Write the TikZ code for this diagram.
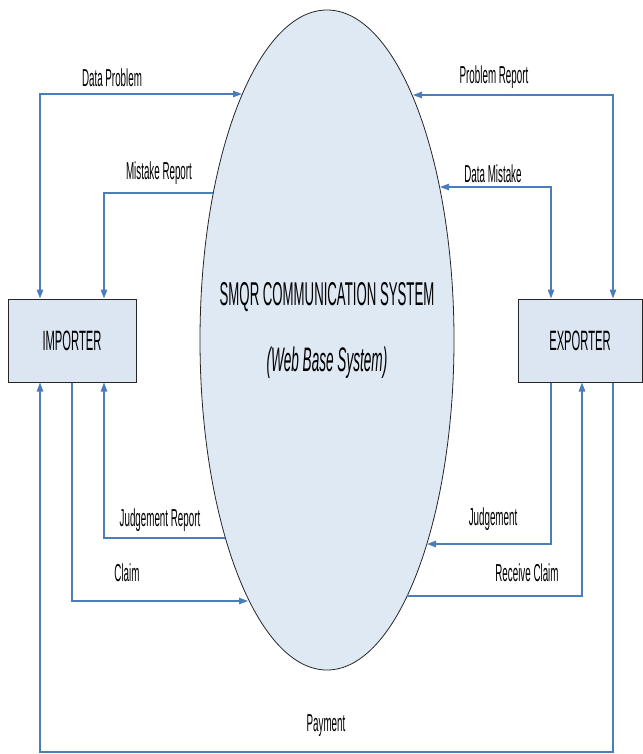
\documentclass[tikz,border=0pt]{standalone}
\usepackage{fontspec}
\usetikzlibrary{shapes.geometric, arrows.meta}
\newfontfamily\narrowfont[FakeStretch=0.4]{Liberation Sans}
\definecolor{flowblue}{HTML}{4A7EBB}
\definecolor{boxfill}{HTML}{DCE6F2}
\definecolor{sysfill}{HTML}{DFE9F4}

\begin{document}
\begin{tikzpicture}[
    x=1pt, y=-1pt,
    entity/.style={rectangle, draw=black!85, line width=1pt, fill=boxfill, minimum width=128pt, minimum height=83pt, font=\narrowfont\fontsize{28}{32}\selectfont},
    system/.style={ellipse, draw=black!85, line width=0.8pt, fill=sysfill, minimum width=254pt, minimum height=660pt, inner sep=0pt},
    lbl/.style={font=\narrowfont\fontsize{24.5}{28}\selectfont, inner sep=0pt},
    flow/.style={draw=flowblue, line width=1.2pt, -{Triangle[length=9pt,width=6.5pt]}},
    twoway/.style={draw=flowblue, line width=1.2pt, {Triangle[length=9pt,width=6.5pt]}-{Triangle[length=9pt,width=6.5pt]}}
]
\useasboundingbox (0,0) rectangle (642,754);

% Central system
\node[system] (sys) at (327,340) {};
\node[font=\narrowfont\fontsize{33}{38}\selectfont] (title) at (327,297) {SMQR COMMUNICATION SYSTEM};
\node[font=\narrowfont\itshape\fontsize{34}{38}\selectfont] (sub) at (327,363) {(Web Base System)};

% Entities
\node[entity] (imp) at (72,340.5) {IMPORTER};
\node[entity, minimum width=124pt] (exp) at (580,340.5) {EXPORTER};

% Points on the system border
\coordinate (dp) at (242,94);
\coordinate (mr) at (213,193);
\coordinate (pr) at (413,95);
\coordinate (dm) at (440,187);
\coordinate (jr) at (225,538);
\coordinate (cl) at (248,601);
\coordinate (jd) at (427,544);
\coordinate (rc) at (407,596);
\coordinate (paybot) at (327,752);

% Upper flows
\draw[twoway] ([xshift=-32pt]imp.north) |- (dp);
\draw[flow] (mr) -| ([xshift=32pt]imp.north);
\draw[twoway] ([xshift=33pt]exp.north) |- (pr);
\draw[twoway] ([xshift=-29pt]exp.north) |- (dm);

% Lower flows
\draw[flow] (jr) -| ([xshift=32pt]imp.south);
\draw[flow] (imp.south) |- (cl);
\draw[flow] ([xshift=-29pt]exp.south) |- (jd);
\draw[flow] (rc) -| ([xshift=2pt]exp.south);
\draw[flow] ([xshift=33pt]exp.south) |- (paybot) -| ([xshift=-32pt]imp.south);

% Labels
\node[lbl] (ldp) at (112,78) {Data Problem};
\node[lbl] (lmr) at (159,173) {Mistake Report};
\node[lbl] (lpr) at (494,77) {Problem Report};
\node[lbl] (ldm) at (493,174) {Data Mistake};
\node[lbl] (ljr) at (160,520) {Judgement Report};
\node[lbl] (lcl) at (127,573) {Claim};
\node[lbl] (ljd) at (493,519) {Judgement};
\node[lbl] (lrc) at (527,573) {Receive Claim};
\node[lbl] (lpay) at (326,726) {Payment};

\end{tikzpicture}
\end{document}
